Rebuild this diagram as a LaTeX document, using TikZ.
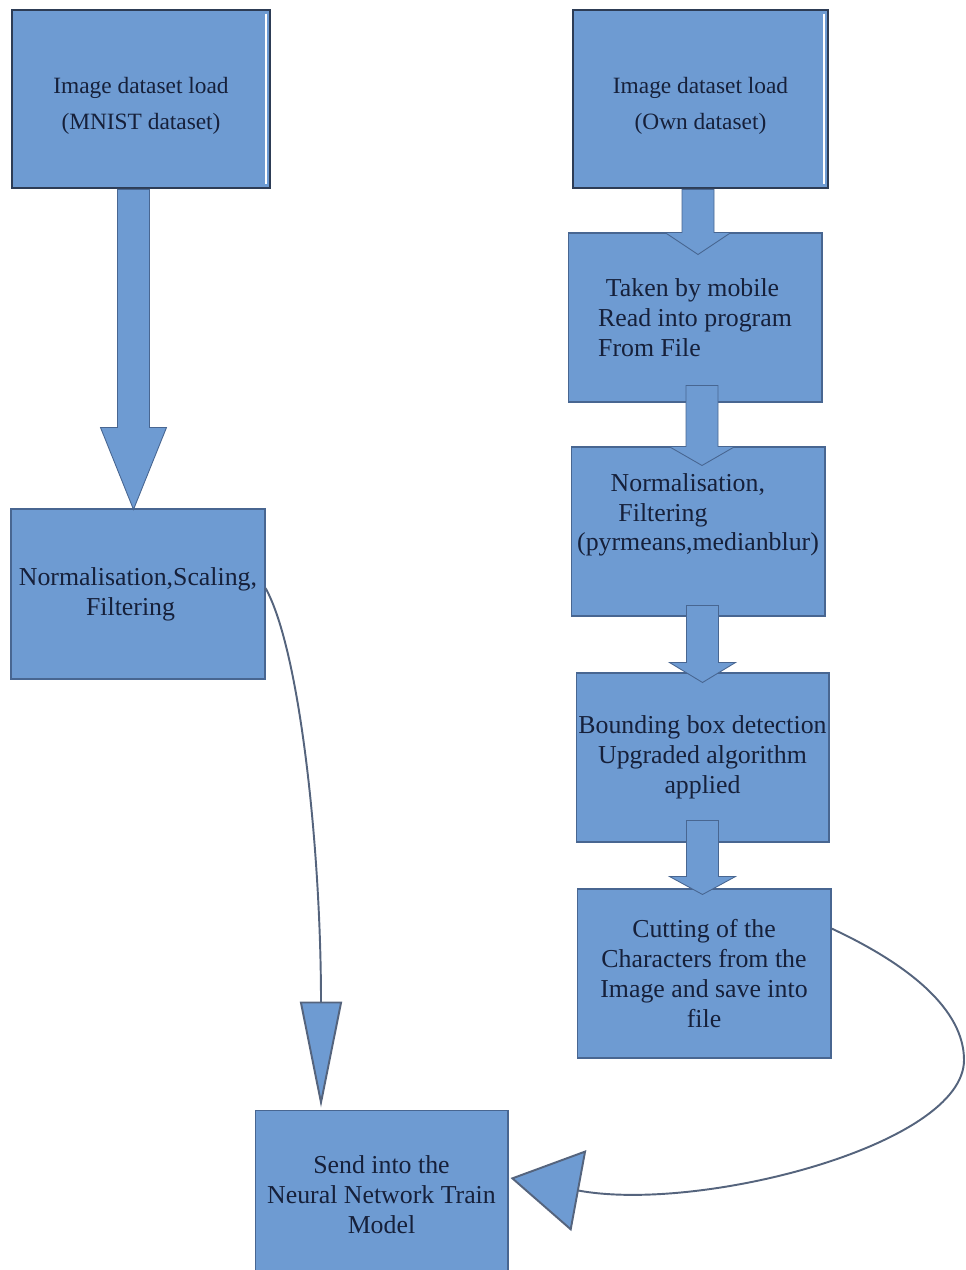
\documentclass[tikz,border=0pt]{standalone}
\usepackage{fontspec}
\setmainfont{Liberation Serif}
\usepackage{tikz}
\usetikzlibrary{arrows.meta, calc}

\definecolor{boxblue}{RGB}{110,155,210}
\definecolor{edgeblue}{RGB}{72,102,145}
\definecolor{darkedge}{RGB}{45,60,85}
\definecolor{txtblue}{RGB}{22,32,58}
\definecolor{linegray}{RGB}{85,100,125}

\tikzset{
  stage/.style={rectangle, draw=edgeblue, fill=boxblue, line width=0.6pt,
                minimum width=5.08cm, minimum height=3.38cm, inner sep=0pt,
                text=txtblue, font=\fontsize{14.7}{17}\selectfont},
  source/.style={stage, draw=darkedge, line width=1.6pt, minimum height=3.56cm,
                 font=\fontsize{13.3}{21}\selectfont},
  bigarrow/.style={fill=boxblue, draw=edgeblue, line width=0.5pt},
  curve/.style={draw=linegray, line width=1.1pt},
}

% block arrow: #1 from, #2 to, #3 x shift, #4 start overlap,
% #5 tip depth, #6 head length (px units)
\newcommand{\stagearrow}[6]{%
  \coordinate (fs) at ($(#1.south)+(#3,-#4)$);
  \coordinate (ft) at ($(#2.north)+(0,#5)$);
  \coordinate (ftip) at (fs |- ft);
  \draw[bigarrow] ($(fs)+(-16,0)$) -- ($(ftip)+(-16,-#6)$) -- ($(ftip)+(-33,-#6)$)
    -- (ftip) -- ($(ftip)+(33,-#6)$) -- ($(ftip)+(16,-#6)$) -- ($(fs)+(16,0)$) -- cycle;
}

\begin{document}
\begin{tikzpicture}[x=0.02cm, y=-0.02cm]
  \useasboundingbox (0,0) rectangle (966,1270);

  % left column
  \node[source, minimum width=5.16cm, align=center] (mnist) at (141,99)
    {\rule{0pt}{0.6cm}Image dataset load\\(MNIST dataset)};
  \node[stage, minimum height=3.4cm, align=left] (lnorm) at (138,594)
    {Normalisation,Scaling,\\\hspace*{2.6em}Filtering};

  % right column
  \node[source, minimum width=5.1cm, align=center] (own) at (700.5,99)
    {\rule{0pt}{0.6cm}Image dataset load\\(Own dataset)};
  \node[stage, align=left] (mobile) at (695,317.5)
    {\hspace*{0.3em}Taken by mobile\\Read into program\\From File};
  \node[stage, align=left] (filt) at (698,531.5)
    {\hspace*{1.3em}Normalisation,\\\hspace*{1.6em}Filtering\\(pyrmeans,medianblur)\\\strut};
  \node[stage, minimum width=5.06cm, align=center] (bbox) at (702.5,757.5)
    {Bounding box detection\\Upgraded algorithm\\applied};
  \node[stage, align=center] (cut) at (704,973.5)
    {Cutting of the\\Characters from the\\Image and save into\\file};

  % bottom
  \node[stage, minimum width=5.06cm, minimum height=3.4cm, align=center] (train) at (381.5,1195)
    {Send into the\\Neural Network Train\\Model};

  % white inner edge of the two source boxes
  \draw[white, line width=1.2pt] ($(mnist.north east)+(-5,5)$) -- ($(mnist.south east)+(-5,-5)$);
  \draw[white, line width=1.2pt] ($(own.north east)+(-5,5)$) -- ($(own.south east)+(-5,-5)$);

  % block arrows
  \stagearrow{mnist}{lnorm}{-7.5}{0}{1}{82}
  \stagearrow{own}{mobile}{-2.5}{0}{22}{22}
  \stagearrow{mobile}{filt}{7}{17}{19}{19}
  \stagearrow{filt}{bbox}{4.5}{11}{10}{20}
  \stagearrow{bbox}{cut}{0}{22}{6}{18}

  % curved connectors into the model
  \draw[curve, -{Triangle[length=2.12cm, width=0.84cm, fill=boxblue]}]
    ($(lnorm.east)+(0,-6)$) .. controls (300,650) and (321,850) .. ($(train.north)+(-60.5,-2)$);
  \draw[curve, -{Triangle[length=1.39cm, width=1.64cm, fill=boxblue]}]
    ($(cut.north east)+(0,40)$) .. controls (910,965) and (964,1010) .. (964,1060)
    .. controls (964,1145) and (700,1213) .. ($(train.east)+(2,-17)$);
\end{tikzpicture}
\end{document}
